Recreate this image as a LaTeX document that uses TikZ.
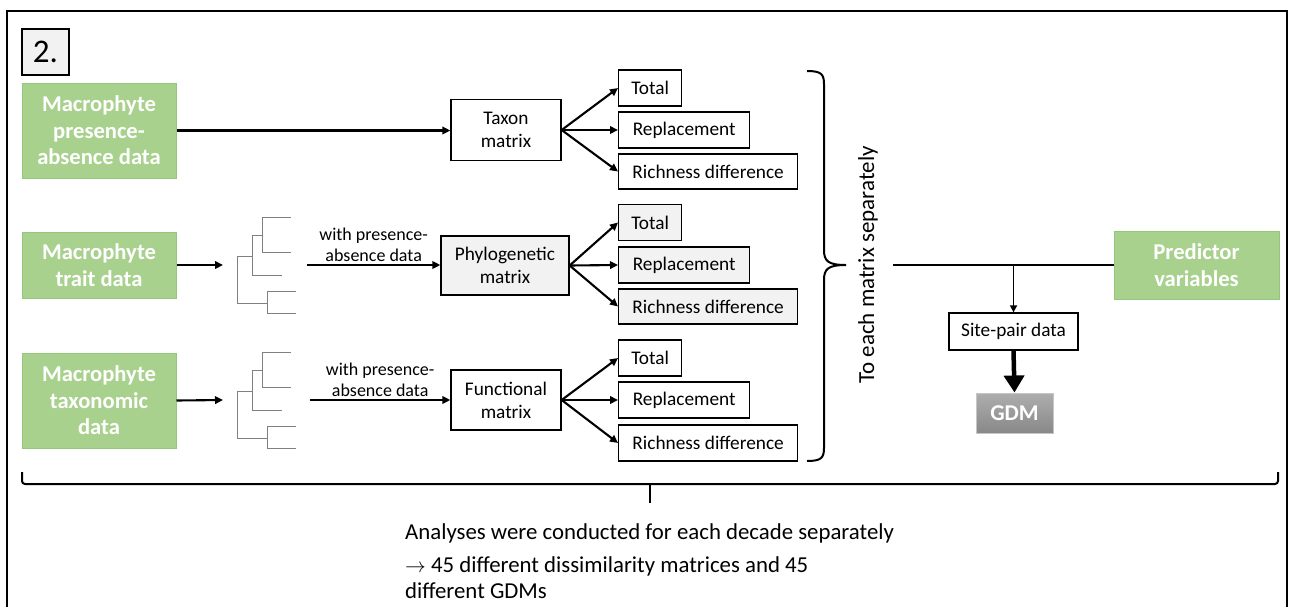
\documentclass[tikz,border=0pt]{standalone}
\usepackage{fontspec}
\setmainfont{Carlito}
\usetikzlibrary{arrows.meta}

\definecolor{boxgreen}{HTML}{A9D18E}
\definecolor{greenline}{HTML}{95C77A}
\definecolor{lightfill}{HTML}{F2F2F2}
\definecolor{treegray}{HTML}{808080}
\definecolor{gdmtop}{HTML}{AEAEAE}
\definecolor{gdmbot}{HTML}{888888}

\begin{document}
\begin{tikzpicture}[x=1pt,y=-1pt,
    databox/.style={fill=boxgreen,draw=greenline,line width=1pt,text=white,inner sep=0pt,
      align=center,font=\fontsize{22.6}{26.5}\selectfont\bfseries},
    matbox/.style={draw,line width=1.3pt,inner sep=0pt,align=center,font=\fontsize{19.3}{23}\selectfont},
    resbox/.style={matbox,anchor=west,minimum height=36pt},
    arr/.style={line width=2.1pt,-{Triangle[length=8pt,width=7.5pt]}},
    tree/.style={draw=treegray,line width=1pt},
    note/.style={font=\fontsize{18}{21}\selectfont,align=center,inner sep=2pt}]
  \useasboundingbox (0,0) rectangle (1292,606);
  \clip (0,0) rectangle (1292,606);
  \draw[line width=2pt] (7,11) rectangle (1287,640);

  % panel number and input data
  \path
    (45.5,52) node[matbox,fill=lightfill,minimum width=47pt,minimum height=46pt,
      font=\fontsize{33}{33}\selectfont] (num){2.}
    (99,130.5) node[databox,minimum width=154pt,minimum height=95pt] (pa){Macrophyte\\presence-\\absence data}
    (99,265) node[databox,minimum width=154pt,minimum height=66pt] (tr){Macrophyte\\trait data}
    (99,400.5) node[databox,minimum width=154pt,minimum height=95pt] (tx){Macrophyte\\taxonomic\\data}
    (1196.5,265) node[databox,minimum width=165pt,minimum height=68pt] (pred){Predictor\\variables};

  % matrices
  \path
    (506,130) node[matbox,minimum width=110pt,minimum height=61pt] (taxon){Taxon\\matrix}
    (505,265.5) node[matbox,fill=lightfill,minimum width=128pt,minimum height=59pt] (phylo){Phylogenetic\\matrix}
    (506,400) node[matbox,minimum width=110pt,minimum height=60pt] (func){Functional\\matrix};

  % dissimilarity components
  \path
    (618,88) node[resbox,minimum width=63pt] (tot1){Total}
    (618,130) node[resbox,minimum width=131pt] (rep1){Replacement}
    (618,171.5) node[resbox,minimum width=179pt,minimum height=35pt] (ric1){Richness difference}
    (618,222.5) node[resbox,fill=lightfill,minimum width=63pt] (tot2){Total}
    (618,265) node[resbox,fill=lightfill,minimum width=131pt] (rep2){Replacement}
    (618,306.5) node[resbox,fill=lightfill,minimum width=179pt,minimum height=35pt] (ric2){Richness difference}
    (618,358) node[resbox,minimum width=63pt] (tot3){Total}
    (618,400) node[resbox,minimum width=131pt] (rep3){Replacement}
    (618,443) node[resbox,minimum width=179pt] (ric3){Richness difference};

  % trees
  \coordinate (t2) at (223,265);
  \coordinate (s2) at (307,265);
  \coordinate (t3) at (223,400);
  \coordinate (s3) at (310,400);
  \draw[tree] (291,217) -| (262,252) -- (291,252);
  \draw[tree] (262,235) -| (252,275) -- (282,275);
  \draw[tree] (252,256) -| (237,303) -- (267,303);
  \draw[tree] (296,291) -| (267,313) -- (296,313);
  \begin{scope}[shift={(0,135.5)}]
    \draw[tree] (291,217) -| (262,252) -- (291,252);
    \draw[tree] (262,235) -| (252,275) -- (282,275);
    \draw[tree] (252,256) -| (237,303) -- (267,303);
    \draw[tree] (296,291) -| (267,313) -- (296,313);
  \end{scope}

  \begin{scope}[arr]
    \draw (pa.east) -- (pa.east -| taxon.west);
    \draw (tr.east) -- (t2);
    \draw (tx.east) -- (t3);
    \draw (s2) -- (s2 -| phylo.west) node[midway,above,note]{with presence-\\absence data};
    \draw (s3) -- (s3 -| func.west) node[midway,above,note]{with presence-\\absence data};
    \draw (taxon.east) -- (tot1.west);
    \draw (taxon.east) -- (rep1.west);
    \draw (taxon.east) -- (ric1.west);
    \draw (phylo.east) -- (tot2.west);
    \draw (phylo.east) -- (rep2.west);
    \draw (phylo.east) -- (ric2.west);
    \draw (func.east) -- (tot3.west);
    \draw (func.east) -- (rep3.west);
    \draw (func.east) -- (ric3.west);
  \end{scope}

  % per matrix: brace, GDM
  \draw[line width=2pt] (807,71) .. controls (821,71) and (824,74) .. (824,84) -- (824,250)
    .. controls (824,261) and (828,265) .. (846,265)
    .. controls (828,265) and (824,269) .. (824,280) -- (824,448)
    .. controls (824,458) and (821,461) .. (807,461);
  \node[rotate=90,font=\fontsize{23}{23}\selectfont] (sep) at (868,265) {To each matrix separately};
  \node[matbox,minimum width=129pt,minimum height=37pt] (site) at (1013.5,331.5) {Site-pair data};
  \node[top color=gdmtop,bottom color=gdmbot,draw=gray!45,line width=1pt,text=white,inner sep=0pt,
    minimum width=77pt,minimum height=40pt,font=\fontsize{22.6}{22.6}\selectfont\bfseries] (gdm) at (1014.5,413) {GDM};
  \coordinate (j) at (893,265);
  \draw[line width=2.1pt] (j) -- (pred.west);
  \draw[line width=1.6pt,-{Triangle[length=7pt,width=7pt]}] (site.north |- pred.west) -- (site.north);
  \draw[line width=4.5pt,-{Triangle[length=17pt,width=20pt]}] (site.south) -- (gdm.north);

  % per decade
  \draw[line width=2pt,rounded corners=3pt] (22,472) |- (1278,484) -- (1278,472);
  \draw[line width=2pt] (650,484) -- (650,503);
  \node[anchor=west,inner sep=0pt,font=\fontsize{22.8}{26}\selectfont] (ana) at (405,533)
    {Analyses were conducted for each decade separately};
  \node[anchor=west,inner sep=0pt,align=left,font=\fontsize{22.8}{26}\selectfont] (res) at (405,578)
    {$\rightarrow$ 45 different dissimilarity matrices and 45\\different GDMs};
\end{tikzpicture}
\end{document}
